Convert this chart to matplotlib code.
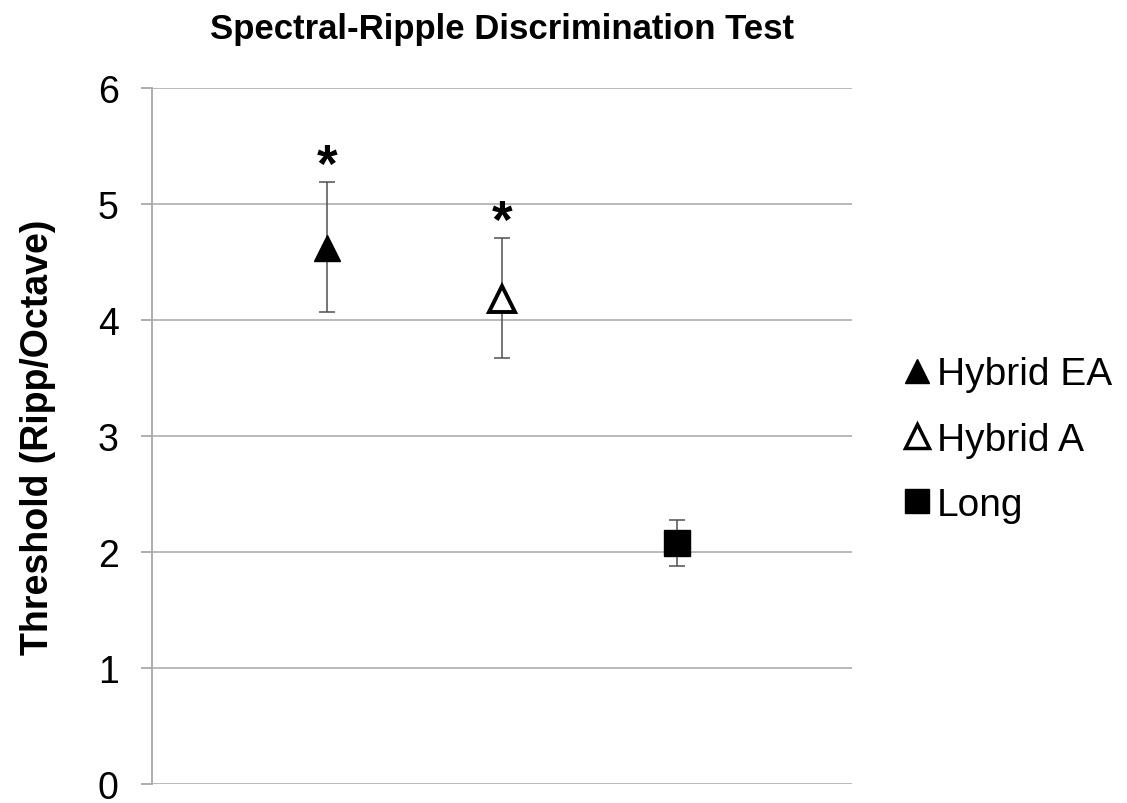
import matplotlib.pyplot as plt
from matplotlib.lines import Line2D

plt.rcParams['font.family'] = ['Liberation Sans', 'DejaVu Sans']

groups = ['Hybrid EA', 'Hybrid A', 'Long']
xpos = [1, 2, 3]
means = [4.62, 4.18, 2.08]
err_hi = [0.57, 0.53, 0.20]
err_lo = [0.55, 0.51, 0.20]
signif = ['*', '*', '']
markers = ['^', '^', 's']
faces = ['black', 'white', 'black']

fig = plt.figure(figsize=(11.27, 8.04), dpi=100)
ax = fig.add_axes([0.1349, 0.0236, 0.6211, 0.8654])

for i in range(len(groups)):
    ax.errorbar(xpos[i], means[i], yerr=[[err_lo[i]], [err_hi[i]]], fmt='none',
                ecolor='#505050', elinewidth=1.1, capsize=6, capthick=1.1, zorder=3)
    ax.plot(xpos[i], means[i], marker=markers[i], ms=19, mfc=faces[i], mec='black',
            mew=2.8 if faces[i] == 'white' else 1, ls='none', zorder=4)
    if signif[i]:
        ax.text(xpos[i], means[i] + err_hi[i] + 0.01, signif[i], ha='center', va='baseline',
                fontsize=38, fontweight='bold')

ax.set_xlim(0, 4)
ax.set_ylim(0, 6)
ax.set_yticks(range(0, 7))
ax.set_xticks([])
ax.grid(axis='y', color='#b4b4b4', lw=1.3)
ax.set_axisbelow(True)
for s in ['top', 'right', 'bottom']:
    ax.spines[s].set_visible(False)
ax.spines['left'].set_color('#a8a8a8')
ax.spines['left'].set_linewidth(1.3)
ax.tick_params(axis='y', length=8, width=1.3, color='#a8a8a8', labelsize=27, pad=16)

ax.set_ylabel('Threshold (Ripp/Octave)', fontsize=27, fontweight='bold', labelpad=30)
ax.set_title('Spectral-Ripple Discrimination Test', fontsize=25, fontweight='bold', pad=36)

handles = [Line2D([], [], marker=markers[i], ms=17, mfc=faces[i], mec='black',
                  mew=2.5 if faces[i] == 'white' else 1, ls='none') for i in range(3)]
fig.legend(handles, groups, loc='center left', bbox_to_anchor=(0.783, 0.452),
           frameon=False, fontsize=28, handlelength=0.8, handletextpad=0.1,
           labelspacing=0.75, borderpad=0)

fig.savefig('out.png', dpi=100)
